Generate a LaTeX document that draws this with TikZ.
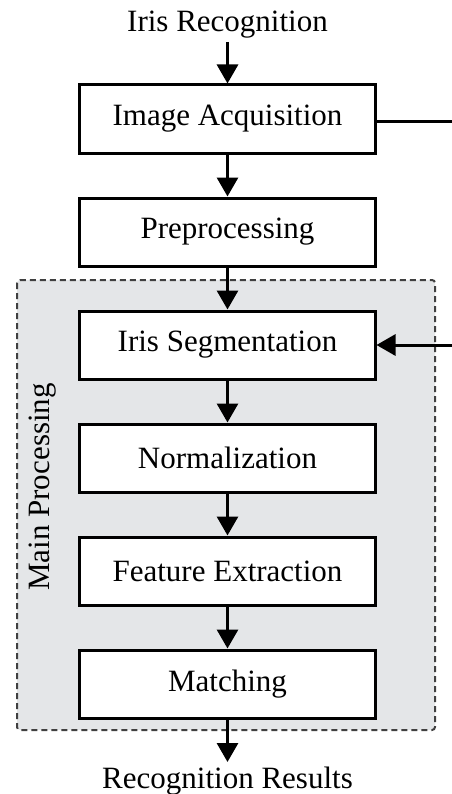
\documentclass[tikz,border=0pt]{standalone}
\usepackage{fontspec}
\setmainfont{Liberation Serif}
\usetikzlibrary{arrows.meta}
\definecolor{panel}{RGB}{228,230,232}
\begin{document}
\begin{tikzpicture}[x=1bp,y=-1bp,
  stepbox/.style={draw=black,line width=3bp,fill=white,minimum width=295bp,minimum height=68bp,inner sep=0pt,font=\fontsize{31bp}{36bp}\selectfont},
  lbl/.style={inner sep=0pt,font=\fontsize{31bp}{36bp}\selectfont},
  conn/.style={line width=3bp,-{Triangle[length=19bp,width=21bp]}},
  plain/.style={line width=3bp}]
\useasboundingbox (0,0) rectangle (452,794);
\draw[fill=panel,draw=black!75,line width=2bp,dash pattern=on 6bp off 4bp,rounded corners=3bp] (17,280) rectangle (435,730);
\node[stepbox] (acq) at (227.5,119) {Image Acquisition};
\node[stepbox] (pre) at (227.5,232) {Preprocessing};
\node[stepbox] (seg) at (227.5,345) {Iris Segmentation};
\node[stepbox] (nor) at (227.5,458) {Normalization};
\node[stepbox] (fea) at (227.5,571) {Feature Extraction};
\node[stepbox] (mat) at (227.5,684) {Matching};
\node[lbl,anchor=base] (top) at (227.5,32) {Iris Recognition};
\node[lbl,anchor=base] (res) at (227.5,788) {Recognition Results};
\node[lbl,rotate=90] (mp) at (43,487) {Main Processing};
\coordinate (topS) at (227.5,42);
\coordinate (resN) at (227.5,762);
\coordinate (outR) at (452,121);
\coordinate (inR) at (452,345);
\draw[conn] (topS) -- (acq.north);
\draw[conn] (acq) -- (pre);
\draw[conn] (pre) -- (seg);
\draw[conn] (seg) -- (nor);
\draw[conn] (nor) -- (fea);
\draw[conn] (fea) -- (mat);
\draw[conn] (mat.south) -- (resN);
\draw[plain] (acq.east |- outR) -- (outR);
\draw[conn] (inR) -- (seg.east);
\end{tikzpicture}
\end{document}
